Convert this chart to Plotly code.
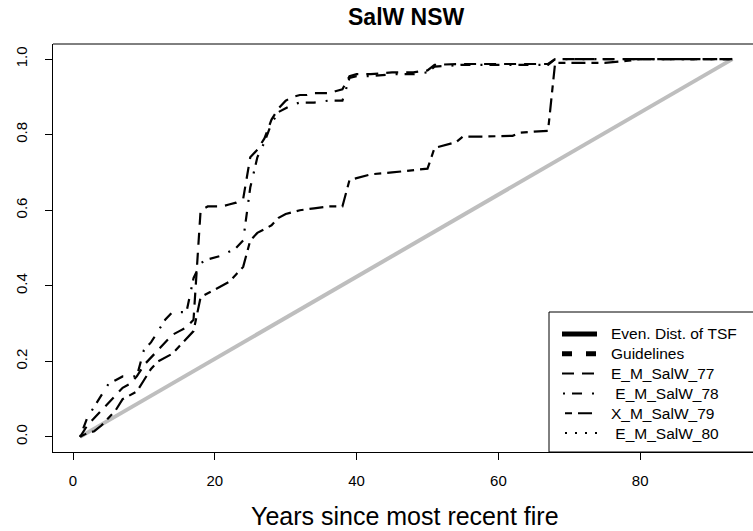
import plotly.graph_objects as go

# ---------------- data ----------------
even_x = [1, 93]
even_y = [0.0, 1.0]

s77_x = [1, 2, 3, 4, 5, 6, 7, 8, 9, 10, 11, 12, 13, 14, 15, 16, 17, 18, 19, 20, 21, 22, 23, 24, 25,
         26, 27, 28, 29, 30, 31, 32, 33, 34, 35, 36, 37, 38, 39, 40, 42, 45, 48, 50, 51, 55, 60, 65,
         67, 68, 75, 80, 85, 93]
s77_y = [0.0, 0.03, 0.05, 0.07, 0.09, 0.11, 0.13, 0.14, 0.16, 0.19, 0.21, 0.23, 0.25, 0.27, 0.28,
         0.29, 0.31, 0.60, 0.61, 0.61, 0.61, 0.615, 0.62, 0.63, 0.74, 0.76, 0.79, 0.84, 0.87, 0.89,
         0.90, 0.905, 0.905, 0.91, 0.91, 0.91, 0.915, 0.92, 0.955, 0.96, 0.96, 0.965, 0.965, 0.97,
         0.985, 0.987, 0.987, 0.987, 0.987, 1.0, 1.0, 1.0, 1.0, 1.0]

s78_x = [1, 2, 3, 4, 5, 6, 7, 8, 9, 10, 11, 12, 13, 14, 15, 16, 17, 18, 19, 20, 21, 22, 23, 24, 25,
         26, 27, 28, 29, 30, 31, 32, 34, 36, 38, 39, 40, 42, 45, 48, 50, 51, 55, 60, 67, 68, 75, 80,
         85, 93]
s78_y = [0.0, 0.05, 0.08, 0.11, 0.14, 0.15, 0.16, 0.16, 0.16, 0.23, 0.25, 0.28, 0.31, 0.33, 0.33,
         0.33, 0.42, 0.46, 0.47, 0.475, 0.48, 0.49, 0.50, 0.52, 0.66, 0.74, 0.78, 0.83, 0.86, 0.87,
         0.88, 0.885, 0.885, 0.89, 0.89, 0.95, 0.955, 0.955, 0.96, 0.96, 0.965, 0.98, 0.985, 0.985,
         0.985, 1.0, 1.0, 1.0, 1.0, 1.0]

s79_x = [1, 2, 3, 4, 5, 6, 7, 8, 9, 10, 11, 12, 13, 14, 15, 16, 17, 18, 19, 20, 21, 22, 23, 24, 25,
         26, 27, 28, 29, 30, 31, 32, 34, 36, 38, 39, 40, 42, 45, 48, 50, 51, 52, 54, 55, 58, 62, 63,
         65, 67, 68, 70, 75, 78, 80, 85, 93]
s79_y = [0.0, 0.01, 0.015, 0.03, 0.05, 0.07, 0.10, 0.11, 0.12, 0.15, 0.18, 0.20, 0.21, 0.22, 0.24,
         0.26, 0.28, 0.37, 0.38, 0.39, 0.40, 0.41, 0.43, 0.45, 0.52, 0.54, 0.55, 0.56, 0.58, 0.59,
         0.595, 0.60, 0.605, 0.61, 0.61, 0.68, 0.685, 0.695, 0.70, 0.705, 0.71, 0.765, 0.77, 0.78,
         0.795, 0.795, 0.797, 0.805, 0.808, 0.81, 0.99, 0.99, 0.99, 0.995, 1.0, 1.0, 1.0]

x_ticks = [0, 20, 40, 60, 80]
y_ticks = [0.0, 0.2, 0.4, 0.6, 0.8, 1.0]
y_tick_labels = ["0.0", "0.2", "0.4", "0.6", "0.8", "1.0"]

legend_labels = ["Even. Dist. of TSF", "Guidelines", "E_M_SalW_77", " E_M_SalW_78",
                 "X_M_SalW_79", " E_M_SalW_80"]

# ---------------- styles ----------------
FONT = "Liberation Sans, Arial, sans-serif"
DASH77 = "12px,8px"
DASH78 = "2px,7px,10px,10px"
DASH79 = "7px,6px,14px,6px"
DASH80 = "2px,8px"
W = 753
H = 531
L, R, T, B = 53, 0, 44, 79
PW = W - L - R
PH = H - T - B


def px(x):
    return (x - L) / PW


def py(y):
    return (H - B - y) / PH


fig = go.Figure()
fig.add_trace(go.Scatter(x=even_x, y=even_y, mode="lines",
                         line=dict(color="#bebebe", width=4), showlegend=False))
fig.add_trace(go.Scatter(x=s77_x, y=s77_y, mode="lines",
                         line=dict(color="black", width=2.2, dash=DASH77), showlegend=False))
fig.add_trace(go.Scatter(x=s78_x, y=s78_y, mode="lines",
                         line=dict(color="black", width=2.2, dash=DASH78), showlegend=False))
fig.add_trace(go.Scatter(x=s79_x, y=s79_y, mode="lines",
                         line=dict(color="black", width=2.2, dash=DASH79), showlegend=False))

shapes = []
annotations = []
# top border of the box (right side is cropped in the reference)
shapes.append(dict(type="line", xref="paper", yref="paper", x0=0, x1=1.02, y0=1, y1=1,
                   line=dict(color="black", width=1)))
# legend box
shapes.append(dict(type="rect", xref="paper", yref="paper", x0=px(549), x1=px(770),
                   y0=py(452), y1=py(312), fillcolor="white",
                   line=dict(color="black", width=1), layer="above"))
rows = [334 + 19.8 * i for i in range(6)]
sample_styles = [
    dict(width=5, dash="solid", x0=562, x1=597),
    dict(width=5, dash="10px,14px", x0=562, x1=597),
    dict(width=2, dash=DASH77, x0=562, x1=597),
    dict(width=2, dash=DASH78, x0=563, x1=597),
    dict(width=2, dash=DASH79, x0=565, x1=597),
    dict(width=2, dash=DASH80, x0=565, x1=597),
]
for r, st, lab in zip(rows, sample_styles, legend_labels):
    shapes.append(dict(type="line", xref="paper", yref="paper",
                       x0=px(st["x0"]), x1=px(st["x1"]), y0=py(r), y1=py(r),
                       line=dict(color="black", width=st["width"], dash=st["dash"]),
                       layer="above"))
    annotations.append(dict(xref="paper", yref="paper", x=px(609), y=py(r),
                            xanchor="left", yanchor="middle", showarrow=False,
                            text=lab.replace(" ", "&nbsp;"),
                            font=dict(family=FONT, size=15.5, color="black")))

annotations.append(dict(xref="paper", yref="paper", x=px(406), y=py(17),
                        xanchor="center", yanchor="middle", showarrow=False,
                        text="<b>SalW NSW</b>",
                        font=dict(family=FONT, size=23, color="black")))
annotations.append(dict(xref="paper", yref="paper", x=px(405), y=py(516),
                        xanchor="center", yanchor="middle", showarrow=False,
                        text="Years since most recent fire",
                        font=dict(family=FONT, size=25, color="black")))

fig.update_layout(
    width=W, height=H,
    margin=dict(l=L, r=R, t=T, b=B, pad=0),
    paper_bgcolor="white", plot_bgcolor="white",
    shapes=shapes, annotations=annotations,
    showlegend=False,
    xaxis=dict(range=[(L - 73) / 7.09, (W - R - 73) / 7.09], tickvals=x_ticks,
               ticks="outside", ticklen=7, tickwidth=1, tickcolor="black",
               showline=True, linecolor="black", linewidth=1, showgrid=False,
               zeroline=False, ticklabelstandoff=8,
               tickfont=dict(family=FONT, size=15, color="black")),
    yaxis=dict(range=[-0.04, 1.04], tickvals=y_ticks, ticktext=y_tick_labels,
               ticks="outside", ticklen=7, tickwidth=1, tickcolor="black",
               showline=True, linecolor="black", linewidth=1, showgrid=False,
               zeroline=False, tickangle=-90, ticklabelstandoff=12,
               tickfont=dict(family=FONT, size=15, color="black")),
)

fig.write_html("out.html", config={"displayModeBar": False},
               post_script="document.body.style.margin='0';document.body.style.overflow='hidden';")
